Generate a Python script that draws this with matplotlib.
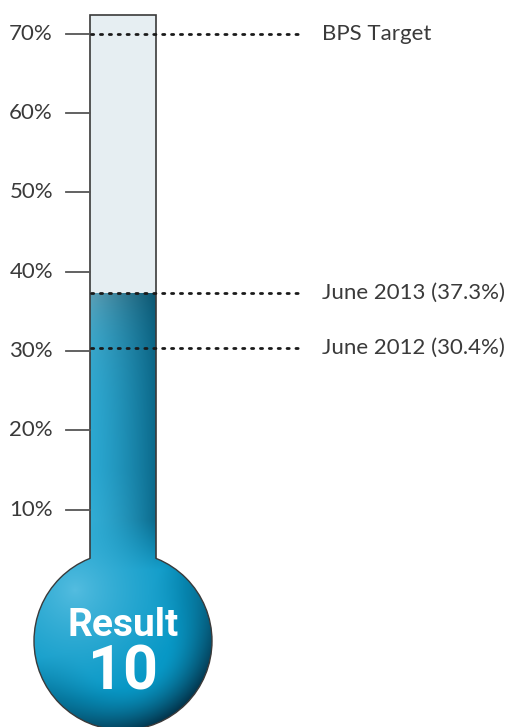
import numpy as np
import matplotlib
matplotlib.use("Agg")
import matplotlib.pyplot as plt
from matplotlib.patches import Ellipse, Rectangle
from matplotlib.colors import to_rgb

# data
tick_values = [10, 20, 30, 40, 50, 60, 70]
tick_labels = ["10%", "20%", "30%", "40%", "50%", "60%", "70%"]
marker_values = [70, 37.3, 30.4]
marker_labels = ["BPS Target", "June 2013 (37.3%)", "June 2012 (30.4%)"]
current_value = 37.3
result_title = "Result"
result_number = "10"

W, H = 508, 727
fig = plt.figure(figsize=(W / 100, H / 100), dpi=100)
ax = fig.add_axes([0, 0, 1, 1])

# vertical scale: percent, horizontal: pixels
zero_px = 138.0      # pixel height (from bottom) of 0%
px_per = 7.933       # pixels per percent
ax.set_xlim(0, W)
ax.set_ylim(-zero_px / px_per, (H - zero_px) / px_per)
ax.axis("off")


def py(pix_from_top):
    # layout helper: pixel row -> percent units
    return (H - pix_from_top - zero_px) / px_per


def rgb(c):
    return np.array(to_rgb(c))


tube_l, tube_r = 90, 156
tube_top = py(15)
bulb_cx, bulb_cy, bulb_r = 123, 641, 89
edge_col = "#3a3a3a"
label_font = dict(fontsize=16, color="#3a3a3a", family="Lato", fontweight="normal")

# empty part of tube
ax.add_patch(Rectangle((tube_l, current_value), tube_r - tube_l, tube_top - current_value,
                       facecolor="#e6eef2", edgecolor="none", zorder=1))

# one gradient image for liquid in tube + bulb
fill_top_px = H - zero_px - current_value * px_per
gx = np.linspace(bulb_cx - bulb_r, bulb_cx + bulb_r, 260)
gy = np.linspace(bulb_cy + bulb_r, fill_top_px, 600)  # pixel rows, bottom first
X, Y = np.meshgrid(gx, gy)

# tube colouring
u = np.clip((X - tube_l) / (tube_r - tube_l), 0, 1)[..., None]
tube = rgb("#2aa8d2") * (1 - u ** 1.4) + rgb("#0b6a8c") * u ** 1.4
b = np.clip((Y - 470) / 93, 0, 1)[..., None] * (1 - u)
tube = tube * (1 - 0.4 * b) + rgb("#4cbbdc") * 0.4 * b
t = np.exp(-(Y - fill_top_px) / 45)[..., None]
top_col = rgb("#6a9dae") * (1 - u) + rgb("#0b5069") * u
tube = tube * (1 - 0.8 * t) + top_col * 0.8 * t

# bulb colouring (radial)
d1 = np.clip(np.hypot(X - 75, Y - 590) / 110, 0, 1)[..., None] ** 0.8
bulbc = rgb("#55bde0") * (1 - d1) + rgb("#0898c6") * d1
dx, dy = (X - bulb_cx) / bulb_r, (Y - bulb_cy) / bulb_r
rho = np.hypot(dx, dy)
side = np.clip(0.3 + 0.7 * (dx * 0.6 + dy * 0.8) / np.maximum(rho, 1e-6), 0, 1)
w = (np.clip((rho - 0.5) / 0.5, 0, 1) ** 1.5 * side)[..., None]
bulbc = bulbc * (1 - w) + rgb("#03334a") * w

k = np.clip((Y - 520) / 50, 0, 1)[..., None]
img = tube * (1 - k) + bulbc * k
extent = (gx[0], gx[-1], py(gy[0]), py(gy[-1]))

bulb = Ellipse((bulb_cx, py(bulb_cy)), 2 * bulb_r, 2 * bulb_r / px_per,
               facecolor="none", edgecolor=edge_col, linewidth=1.0, zorder=3)
ax.add_patch(bulb)
im1 = ax.imshow(img, extent=extent, origin="lower", aspect="auto", zorder=2,
                interpolation="bilinear")
im1.set_clip_path(bulb)
tube_clip = Rectangle((tube_l, py(575)), tube_r - tube_l, current_value - py(575),
                      facecolor="none", edgecolor="none")
ax.add_patch(tube_clip)
im2 = ax.imshow(img, extent=extent, origin="lower", aspect="auto", zorder=4,
                interpolation="bilinear")
im2.set_clip_path(tube_clip)
ax.set_xlim(0, W)
ax.set_ylim(-zero_px / px_per, (H - zero_px) / px_per)

# tube outline
neck_y = py(bulb_cy - np.sqrt(bulb_r ** 2 - (bulb_cx - tube_l) ** 2))
ax.plot([tube_l, tube_l, tube_r, tube_r], [neck_y, tube_top, tube_top, neck_y],
        color=edge_col, linewidth=1.2, zorder=5, solid_joinstyle="miter")

# ticks
for v, lab in zip(tick_values, tick_labels):
    ax.plot([66, tube_l], [v, v], color="#555555", linewidth=1.3, zorder=5)
    ax.text(53, v, lab, ha="right", va="center", **label_font)

# marker lines
for v, lab in zip(marker_values, marker_labels):
    ax.plot([tube_l + 1, 303], [v, v], color="#1a1a1a", linewidth=2.0,
            linestyle=(0, (0.8, 2.4)), dash_capstyle="round", zorder=6)
    ax.text(322, v, lab, ha="left", va="center", **label_font)

# bulb text
ax.text(bulb_cx, py(625), result_title, ha="center", va="center", fontsize=28,
        color="white", family="Roboto", fontweight="bold", zorder=7)
ax.text(bulb_cx, py(673), result_number, ha="center", va="center", fontsize=44,
        color="white", family="Roboto", fontweight="bold", zorder=7)

fig.savefig("out.png", dpi=100)
